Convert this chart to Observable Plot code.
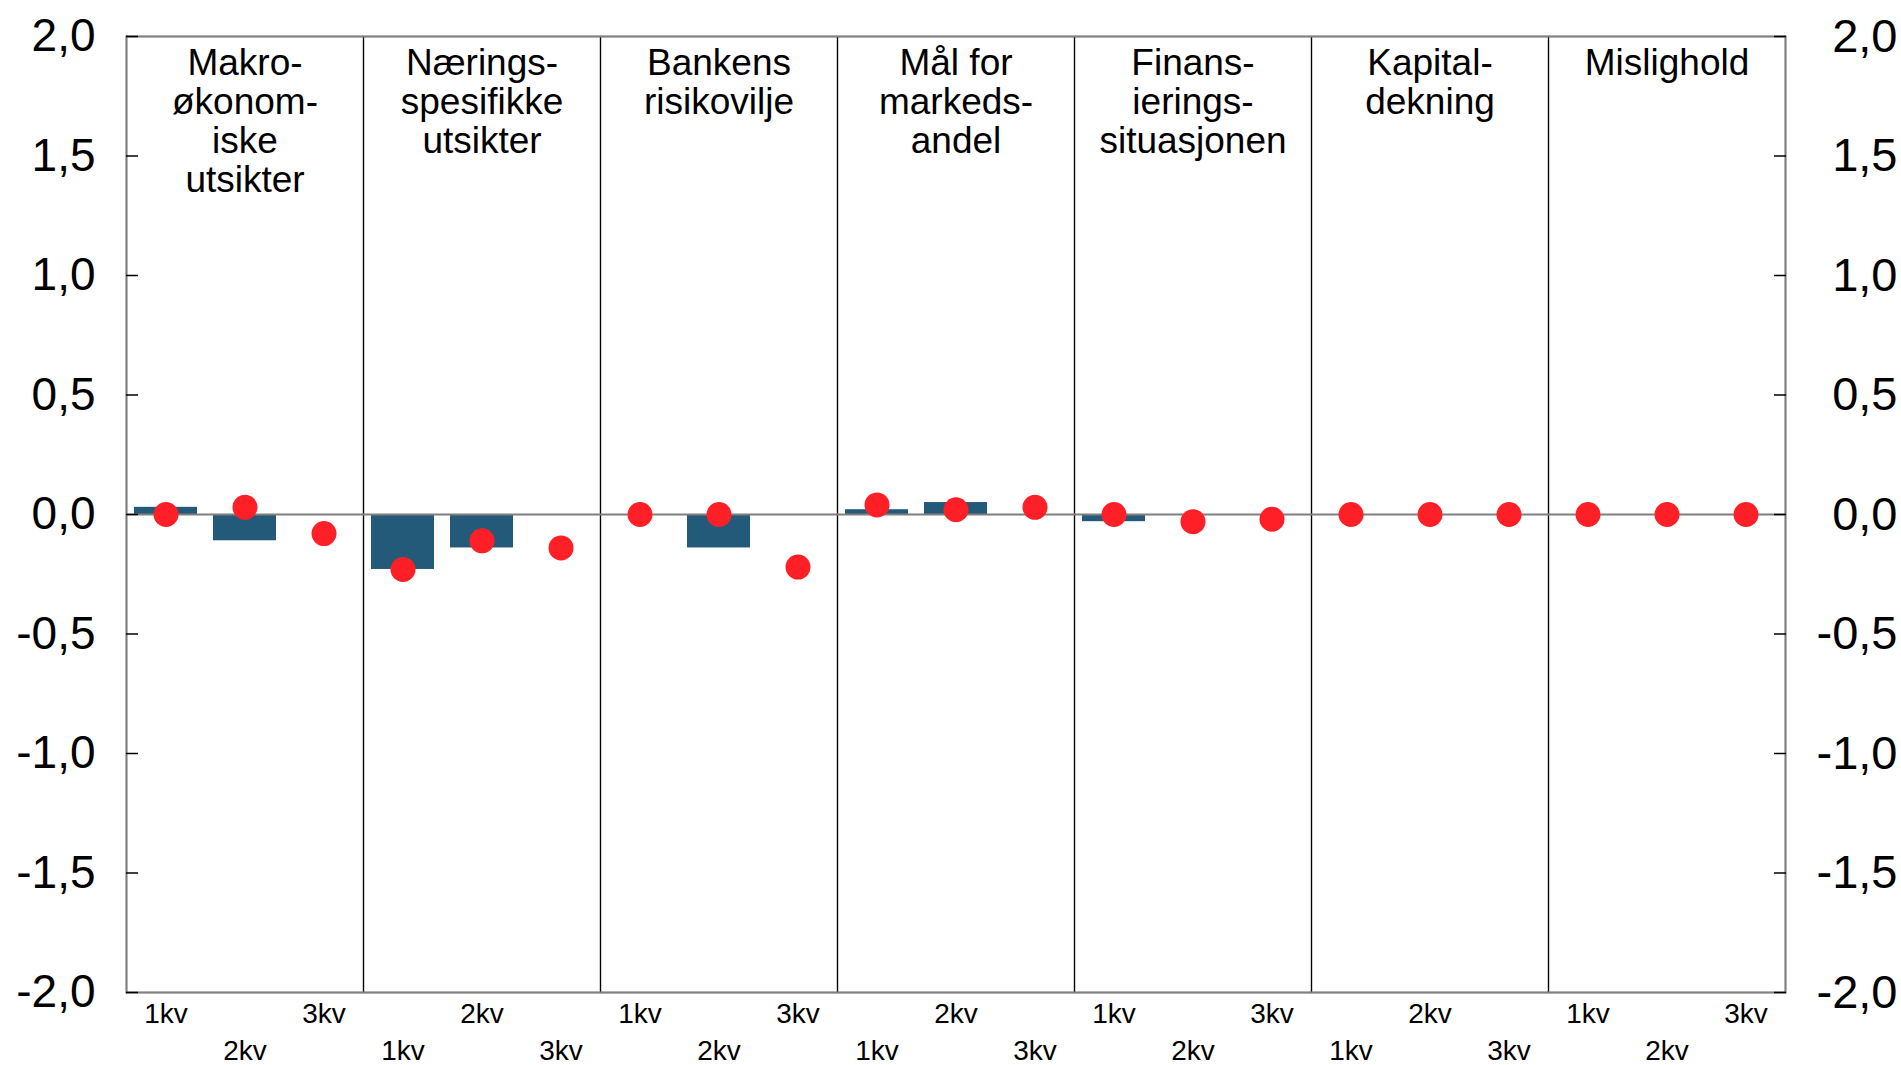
<!DOCTYPE html>
<html><head><meta charset="utf-8">
<script src="https://cdn.jsdelivr.net/npm/d3@7"></script>
<script src="https://cdn.jsdelivr.net/npm/@observablehq/plot@0.6"></script>
<style>html,body{margin:0;padding:0;background:#fff} svg{display:block}</style>
</head><body><div id="chart"></div>
<script>
const categories = [
  "Makro-\nøkonom-\niske\nutsikter",
  "Nærings-\nspesifikke\nutsikter",
  "Bankens\nrisikovilje",
  "Mål for\nmarkeds-\nandel",
  "Finans-\nierings-\nsituasjonen",
  "Kapital-\ndekning",
  "Mislighold"
];
const quarters = ["1kv", "2kv", "3kv"];
// Bars (null = no bar)
const barValues = [
  [0.03, -0.11, null],
  [-0.23, -0.14, null],
  [null, -0.14, null],
  [0.02, 0.05, null],
  [-0.03, null, null],
  [null, null, null],
  [null, null, null]
];
// Red dots
const dotValues = [
  [0.0, 0.03, -0.08],
  [-0.23, -0.11, -0.14],
  [0.0, 0.0, -0.22],
  [0.04, 0.02, 0.03],
  [0.0, -0.03, -0.02],
  [0.0, 0.0, 0.0],
  [0.0, 0.0, 0.0]
];
const yTicks = [-2, -1.5, -1, -0.5, 0, 0.5, 1, 1.5, 2];

const rows = [];
categories.forEach((cat, ci) => quarters.forEach((q, qi) => {
  rows.push({cat, q, bar: barValues[ci][qi], dot: dotValues[ci][qi], row: (ci * 3 + qi) % 2});
}));

const fmt = d => d.toFixed(1).replace(".", ",");

const chart = Plot.plot({
  width: 1901,
  height: 1065,
  marginLeft: 124,
  marginRight: 114,
  marginTop: 36,
  marginBottom: 73,
  style: {fontFamily: "'Liberation Sans', Arial, sans-serif", background: "#fff", color: "#000"},
  fx: {domain: categories, padding: 0, axis: null},
  x: {domain: quarters, paddingInner: 0.2, paddingOuter: 0.1, axis: null},
  y: {domain: [-2, 2], axis: null},
  marks: [
    Plot.barY(rows.filter(d => d.bar != null), {fx: "cat", x: "q", y: "bar", fill: "#235a79"}),
    Plot.frame({stroke: "#000", strokeWidth: 1.2}),
    Plot.ruleY([2, -2], {stroke: "#808080", strokeWidth: 2}),
    Plot.frame({anchor: "left", stroke: "#808080", strokeWidth: 2, fx: () => categories[0]}),
    Plot.frame({anchor: "right", stroke: "#808080", strokeWidth: 2, fx: () => categories[categories.length - 1]}),
    Plot.ruleY([0], {stroke: "#7f7f7f", strokeWidth: 2}),
    Plot.axisY({anchor: "left", ticks: yTicks, tickFormat: fmt, tickSize: -12, tickPadding: 43, fontSize: 46, strokeWidth: 1.5}),
    Plot.axisY({anchor: "right", ticks: yTicks, tickFormat: fmt, tickSize: -12, tickPadding: 124, textAnchor: "end", fontSize: 47, strokeWidth: 1.5}),
    Plot.dot(rows, {fx: "cat", x: "q", y: "dot", r: 12.5, fill: "#ff2027", stroke: null}),
    Plot.text(categories, {fx: d => d, text: d => d, frameAnchor: "top", lineAnchor: "top", dy: 11, fontSize: 37, lineHeight: 1.05, fill: "#000"}),
    Plot.text(rows.filter(d => d.row === 0), {fx: "cat", x: "q", text: "q", frameAnchor: "bottom", lineAnchor: "top", dy: 11, fontSize: 28, fill: "#000"}),
    Plot.text(rows.filter(d => d.row === 1), {fx: "cat", x: "q", text: "q", frameAnchor: "bottom", lineAnchor: "top", dy: 48, fontSize: 28, fill: "#000"})
  ]
});
document.getElementById("chart").appendChild(chart);
</script>
</body></html>
